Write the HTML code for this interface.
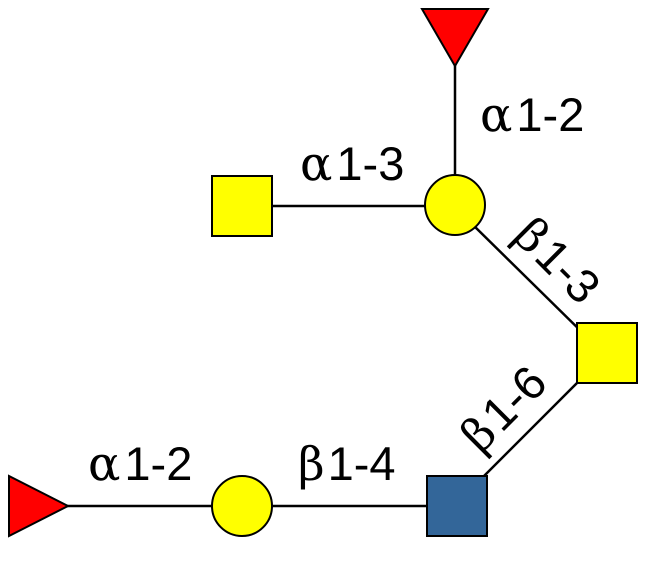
<!DOCTYPE html>
<html><head><style>body{margin:0;background:#fff}svg{display:block}</style></head>
<body>
<svg width="652" height="585" viewBox="0 0 652 585" xmlns="http://www.w3.org/2000/svg">
<g stroke="#000" stroke-width="2.5" fill="none">
<line x1="455" y1="60" x2="455" y2="180"/>
<line x1="272" y1="206" x2="430" y2="206"/>
<line x1="470" y1="222" x2="590" y2="340"/>
<line x1="590" y1="370" x2="470" y2="490"/>
<line x1="272" y1="506" x2="440" y2="506"/>
<line x1="60" y1="506" x2="215" y2="506"/>
</g>
<g stroke="#000" stroke-width="2">
<polygon points="422,9 488,9 455,66" fill="#f00"/>
<polygon points="9,476 9,536 68,506" fill="#f00"/>
<rect x="212" y="176" width="60" height="60" fill="#ff0"/>
<rect x="577" y="323" width="60" height="60" fill="#ff0"/>
<rect x="427" y="476" width="60" height="60" fill="#336699"/>
<circle cx="455" cy="205" r="30" fill="#ff0"/>
<circle cx="242" cy="506" r="30" fill="#ff0"/>
</g>
<g font-family="Liberation Sans, sans-serif" font-size="47" fill="#000">
<text x="480" y="131"><tspan font-family="DejaVu Serif, serif" font-size="48" letter-spacing="4">α</tspan>1-2</text>
<text x="300" y="180"><tspan font-family="DejaVu Serif, serif" font-size="48" letter-spacing="4">α</tspan>1-3</text>
<text x="88" y="480"><tspan font-family="DejaVu Serif, serif" font-size="48" letter-spacing="4">α</tspan>1-2</text>
<text x="298" y="480"><tspan font-family="DejaVu Serif, serif" font-size="46" letter-spacing="3">β</tspan>1-4</text>
<text transform="translate(546,272) rotate(45)" text-anchor="middle"><tspan font-family="DejaVu Serif, serif" font-size="46" letter-spacing="3">β</tspan>1-3</text>
<text transform="translate(515,420) rotate(-45)" text-anchor="middle"><tspan font-family="DejaVu Serif, serif" font-size="46" letter-spacing="3">β</tspan>1-6</text>
</g>
</svg>
</body></html>
